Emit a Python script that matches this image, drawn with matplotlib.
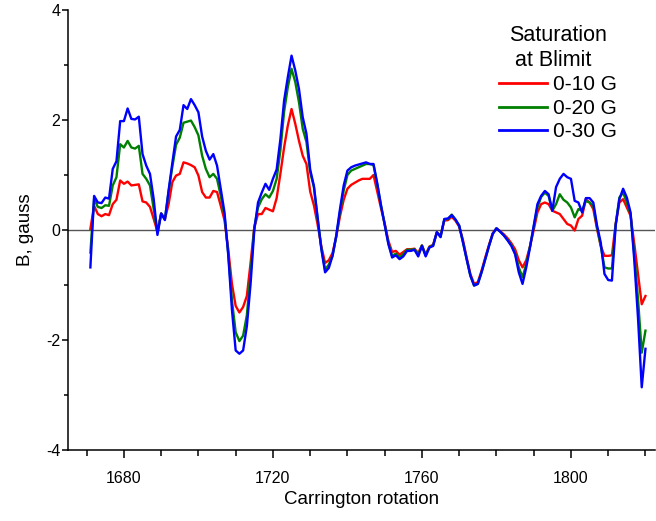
import numpy as np
import matplotlib
matplotlib.use("Agg")
import matplotlib.pyplot as plt
from matplotlib.ticker import MultipleLocator

plt.rcParams['font.family'] = ['Liberation Sans', 'DejaVu Sans']
plt.rcParams['axes.unicode_minus'] = False

# Carrington rotations 1671..1820
rot = np.arange(1671, 1821)

# Polar field for the saturation limits 0-10, 0-20 and 0-30 G
b10 = [0.02, 0.44, 0.29, 0.25, 0.29, 0.27, 0.47, 0.55, 0.9, 0.84,
       0.88, 0.81, 0.82, 0.83, 0.52, 0.5, 0.42, 0.2, -0.03, 0.3,
       0.2, 0.47, 0.87, 0.99, 1.02, 1.23, 1.21, 1.18, 1.14, 0.99,
       0.69, 0.59, 0.59, 0.71, 0.69, 0.44, 0.18, -0.35,
       -0.98, -1.38, -1.5, -1.4, -1.2, -0.6, 0.05, 0.29, 0.29, 0.4,
       0.37, 0.34, 0.58, 1.02, 1.5, 1.9, 2.2, 1.93, 1.62, 1.35,
       1.2, 0.7, 0.45, 0.1, -0.3, -0.6, -0.55,
       -0.42, -0.12, 0.25, 0.55, 0.75, 0.82, 0.86, 0.9, 0.93, 0.93,
       0.93, 1.0, 0.7, 0.4, 0.12, -0.2, -0.4, -0.38, -0.45, -0.4,
       -0.35, -0.35, -0.34, -0.42, -0.28, -0.45, -0.3, -0.27, -0.04, -0.1,
       0.17, 0.18, 0.24, 0.17, 0.06, -0.18,
       -0.5, -0.8, -0.98, -0.95, -0.74, -0.5, -0.27, -0.06, 0.03, -0.02,
       -0.08, -0.15, -0.24, -0.35, -0.55, -0.68, -0.55, -0.3, 0.0, 0.32,
       0.47, 0.5, 0.47, 0.35, 0.32, 0.29, 0.2, 0.11, 0.08, -0.01,
       0.2, 0.26, 0.56, 0.5, 0.38, 0.02, -0.29, -0.47, -0.47, -0.46,
       0.11, 0.5, 0.56, 0.41, 0.26, -0.25, -0.8, -1.35, -1.2]

b20 = [-0.41, 0.56, 0.42, 0.4, 0.45, 0.44, 0.81, 0.96, 1.56, 1.5,
       1.62, 1.5, 1.48, 1.53, 1.02, 0.93, 0.81, 0.38, -0.05, 0.3,
       0.2, 0.7, 1.15, 1.55, 1.68, 1.95, 1.97, 1.99, 1.87, 1.72,
       1.35, 1.11, 0.96, 1.02, 0.93, 0.62, 0.26, -0.42,
       -1.28, -1.86, -2.02, -1.92, -1.55, -0.8, 0.05, 0.41, 0.56, 0.65,
       0.59, 0.71, 0.93, 1.45, 2.15, 2.6, 2.93, 2.69, 2.32, 1.84,
       1.6, 1.05, 0.78, 0.2, -0.33, -0.72, -0.63,
       -0.47, -0.12, 0.33, 0.72, 1.0, 1.08, 1.11, 1.14, 1.17, 1.2,
       1.2, 1.18, 0.83, 0.45, 0.1, -0.24, -0.47, -0.43, -0.5, -0.44,
       -0.36, -0.36, -0.35, -0.45, -0.28, -0.46, -0.31, -0.28, -0.04, -0.12,
       0.19, 0.2, 0.28, 0.19, 0.08, -0.22,
       -0.53, -0.83, -1.01, -0.98, -0.77, -0.53, -0.29, -0.07, 0.03, -0.03,
       -0.1, -0.18, -0.27, -0.42, -0.68, -0.86, -0.62, -0.3, 0.06, 0.41,
       0.6, 0.68, 0.62, 0.35, 0.47, 0.65, 0.55, 0.5, 0.41, 0.23,
       0.38, 0.35, 0.53, 0.5, 0.44, 0.05, -0.29, -0.68, -0.7, -0.7,
       0.1, 0.59, 0.68, 0.5, 0.29, -0.45, -1.25, -2.23, -1.83]

b30 = [-0.68, 0.62, 0.5, 0.49, 0.59, 0.57, 1.11, 1.25, 1.98, 1.98,
       2.21, 2.02, 2.01, 2.06, 1.38, 1.17, 1.02, 0.56, -0.09, 0.3,
       0.18, 0.72, 1.22, 1.7, 1.82, 2.27, 2.2, 2.38, 2.27, 2.14,
       1.7, 1.44, 1.28, 1.38, 1.17, 0.75, 0.32, -0.45,
       -1.45, -2.19, -2.25, -2.19, -1.75, -0.98, 0.0, 0.5, 0.68, 0.84,
       0.73, 0.93, 1.1, 1.65, 2.35, 2.78, 3.17, 2.9, 2.56, 2.05,
       1.75, 1.1, 0.8, 0.22, -0.35, -0.77, -0.69,
       -0.47, -0.1, 0.38, 0.81, 1.08, 1.14, 1.17, 1.19, 1.21, 1.23,
       1.2, 1.2, 0.85, 0.45, 0.1, -0.26, -0.5, -0.46, -0.53, -0.48,
       -0.38, -0.38, -0.36, -0.48, -0.29, -0.48, -0.32, -0.29, -0.04, -0.13,
       0.2, 0.21, 0.27, 0.19, 0.08, -0.22,
       -0.53, -0.83, -1.01, -0.98, -0.77, -0.53, -0.29, -0.07, 0.03, -0.03,
       -0.1, -0.19, -0.29, -0.44, -0.77, -0.98, -0.68, -0.32, 0.08, 0.47,
       0.62, 0.71, 0.65, 0.35, 0.78, 0.93, 1.02, 0.96, 0.93, 0.53,
       0.5, 0.32, 0.58, 0.58, 0.5, 0.08, -0.23, -0.8, -0.91, -0.92,
       0.08, 0.56, 0.75, 0.59, 0.32, -0.55, -1.6, -2.86, -2.16]

fig = plt.figure(figsize=(6.56, 5.21), dpi=100)
ax = fig.add_axes([0.1037, 0.1363, 0.895, 0.8445])

ax.axhline(0, color='#555555', lw=1.0, zorder=1)
ax.plot(rot, b10, color='#ff0000', lw=1.7, label='0-10 G', zorder=2)
ax.plot(rot, b20, color='#008000', lw=1.7, label='0-20 G', zorder=3)
ax.plot(rot, b30, color='#0000ff', lw=1.7, label='0-30 G', zorder=4)

ax.set_xlim(1665, 1822.6)
ax.set_ylim(-4, 4)
ax.xaxis.set_major_locator(MultipleLocator(40))
ax.xaxis.set_minor_locator(MultipleLocator(10))
ax.yaxis.set_major_locator(MultipleLocator(2))
ax.yaxis.set_minor_locator(MultipleLocator(1))

for s in ['top', 'right']:
    ax.spines[s].set_visible(False)
for s in ['left', 'bottom']:
    ax.spines[s].set_linewidth(1.1)

ax.tick_params(axis='x', which='major', direction='out', length=6, width=1.1,
               labelsize=11.5, pad=9)
ax.tick_params(axis='x', which='minor', direction='out', length=4, width=1.1)
ax.tick_params(axis='y', which='major', direction='out', length=4, width=1.1,
               labelsize=11.5, pad=1.5)
ax.tick_params(axis='y', which='minor', direction='out', length=3, width=1.1)

ax.set_xlabel('Carrington rotation', fontsize=13.5, labelpad=4)
ax.set_ylabel('B, gauss', fontsize=13.5, labelpad=9)

leg = ax.legend(title='Saturation\n at Blimit', loc='upper right',
                bbox_to_anchor=(0.96, 0.998), frameon=False,
                fontsize=15, title_fontsize=15.5, handlelength=2.3,
                handletextpad=0.3, labelspacing=0.22, borderpad=0.2)
for h in leg.get_lines():
    h.set_linewidth(2.0)

fig.savefig('out.png', dpi=100)
